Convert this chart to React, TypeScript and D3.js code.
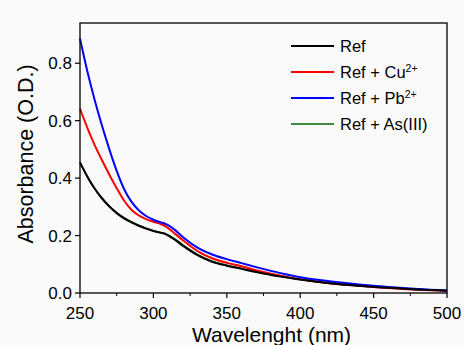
import React from "react";
import * as d3 from "d3";

const wavelengths = [250, 255, 260, 265, 270, 275, 280, 285, 290, 295, 300, 305, 308, 310, 315, 320, 330, 340, 350, 360, 370, 380, 390, 400, 420, 440, 460, 480, 500];
const refAbs = [0.455, 0.405, 0.363, 0.329, 0.301, 0.278, 0.26, 0.246, 0.234, 0.224, 0.216, 0.21, 0.206, 0.2, 0.184, 0.165, 0.132, 0.109, 0.095, 0.084, 0.073, 0.063, 0.055, 0.047, 0.034, 0.025, 0.018, 0.012, 0.008];
const cuAbs = [0.642, 0.575, 0.515, 0.462, 0.412, 0.365, 0.322, 0.29, 0.27, 0.257, 0.248, 0.24, 0.233, 0.226, 0.205, 0.184, 0.146, 0.121, 0.105, 0.093, 0.079, 0.067, 0.057, 0.048, 0.034, 0.025, 0.017, 0.011, 0.007];
const pbAbs = [0.886, 0.772, 0.672, 0.582, 0.5, 0.425, 0.362, 0.318, 0.288, 0.268, 0.255, 0.246, 0.241, 0.236, 0.218, 0.195, 0.158, 0.134, 0.118, 0.104, 0.09, 0.077, 0.065, 0.055, 0.041, 0.03, 0.021, 0.014, 0.009];
const asAbs = [0.453, 0.406, 0.365, 0.331, 0.303, 0.28, 0.262, 0.248, 0.236, 0.226, 0.217, 0.211, 0.207, 0.202, 0.187, 0.168, 0.134, 0.111, 0.097, 0.086, 0.074, 0.064, 0.055, 0.047, 0.034, 0.025, 0.018, 0.012, 0.008];

const seriesNames = ["Ref", "Ref + Cu", "Ref + Pb", "Ref + As(III)"];
const seriesSup = ["", "2+", "2+", ""];
const seriesColors = ["#000000", "#ff0000", "#0000ff", "#006400"];
const xTicks = [250, 300, 350, 400, 450, 500];
const xMinorTicks = [275, 325, 375, 425, 475];
const yTicks = [0, 0.2, 0.4, 0.6, 0.8];

const W = 464;
const H = 345;
const FONT = "'Liberation Sans', Arial, sans-serif";

export default function App() {
  const left = 80, right = 447, top = 23, bottom = 293;
  const x = d3.scaleLinear().domain([250, 500]).range([left, right]);
  const y = d3.scaleLinear().domain([0, 0.94]).range([bottom, top]);

  const line = d3
    .line<[number, number]>()
    .x((d) => x(d[0]))
    .y((d) => y(d[1]))
    .curve(d3.curveMonotoneX);

  const allSeries = [refAbs, cuAbs, pbAbs, asAbs];
  const paths = allSeries.map((vals) => line(wavelengths.map((w, i) => [w, vals[i]] as [number, number])) || "");
  const widths = [2, 2, 2, 1.5];
  // green goes first so the black curve sits on top of it
  const drawOrder = [3, 1, 2, 0];

  return (
    <svg
      width={W}
      height={H}
      style={{ position: "absolute", left: 0, top: 0, display: "block", background: "#fafafa" }}
      fontFamily={FONT}
    >
      {drawOrder.map((k) => (
        <path key={k} d={paths[k]} fill="none" stroke={seriesColors[k]} strokeWidth={widths[k]} strokeLinejoin="round" />
      ))}

      {/* frame */}
      <rect x={left} y={top} width={right - left} height={bottom - top} fill="none" stroke="#000" strokeWidth={1.3} />

      {/* x axis */}
      {xTicks.map((t) => (
        <g key={t}>
          <line x1={x(t)} x2={x(t)} y1={bottom} y2={bottom + 5} stroke="#000" strokeWidth={1.2} />
          <text x={x(t)} y={319} textAnchor="middle" fontSize={17}>{t}</text>
        </g>
      ))}
      {xMinorTicks.map((t) => (
        <line key={t} x1={x(t)} x2={x(t)} y1={bottom} y2={bottom + 3} stroke="#000" strokeWidth={1} />
      ))}

      {/* y axis */}
      {yTicks.map((t) => (
        <g key={t}>
          <line x1={left - 5} x2={left} y1={y(t)} y2={y(t)} stroke="#000" strokeWidth={1.2} />
          <text x={72} y={y(t)} dy="0.36em" textAnchor="end" fontSize={17}>{t.toFixed(1)}</text>
        </g>
      ))}

      <text x={(left + right) / 2 + 8} y={342} textAnchor="middle" fontSize={21}>Wavelenght (nm)</text>
      <text transform={`translate(33,154) rotate(-90)`} textAnchor="middle" fontSize={21.5}>Absorbance (O.D.)</text>

      {/* legend */}
      {seriesNames.map((name, i) => {
        const ly = 46 + i * 26;
        return (
          <g key={name}>
            <line x1={291} x2={334} y1={ly} y2={ly} stroke={seriesColors[i]} strokeWidth={widths[i]} />
            <text x={340} y={ly} dy="0.36em" fontSize={16.5}>
              {name}
              {seriesSup[i] && (
                <tspan dy="-0.55em" fontSize={10.5}>{seriesSup[i]}</tspan>
              )}
            </text>
          </g>
        );
      })}
    </svg>
  );
}
